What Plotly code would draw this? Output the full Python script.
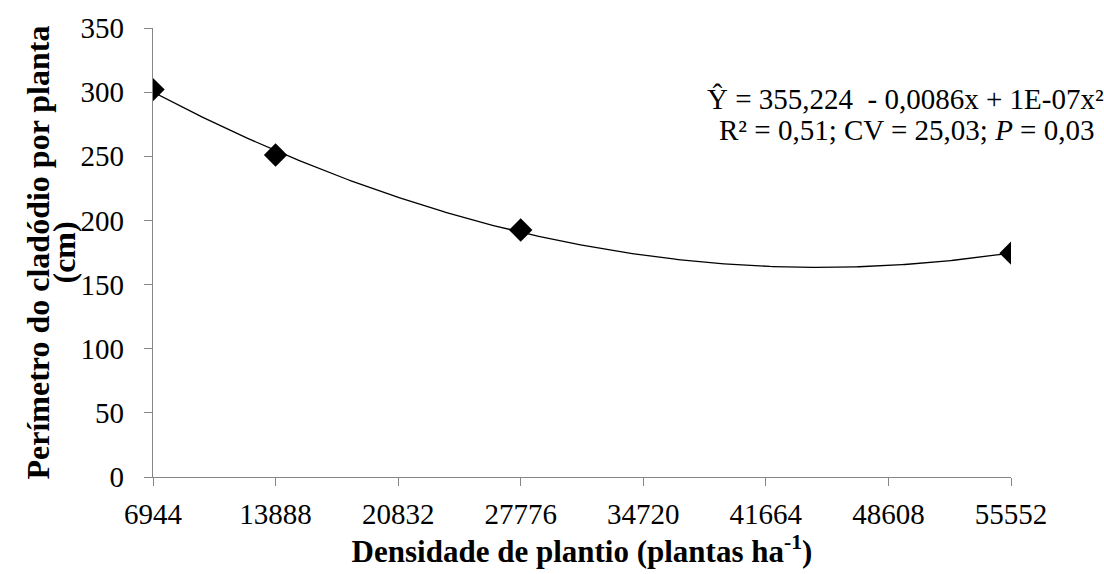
import numpy as np
import plotly.graph_objects as go

# Planting density (plants per hectare) and cladode perimeter per plant (cm)
densidade = [6944, 13888, 27776, 55552]
perimetro = [302, 251, 192.5, 174.5]
x_ticks = [6944, 13888, 20832, 27776, 34720, 41664, 48608, 55552]
y_ticks = [0, 50, 100, 150, 200, 250, 300, 350]

# Second-order polynomial trend fitted to the observations
coef = np.polyfit(densidade, perimetro, 2)
x_fit = np.linspace(min(densidade), max(densidade), 300)
y_fit = np.polyval(coef, x_fit)

FONT = "'Liberation Serif', 'Times New Roman', Times, serif"
AXIS_COLOR = "#868686"

fig = go.Figure()
fig.add_trace(go.Scatter(
    x=x_fit, y=y_fit, mode="lines",
    line=dict(color="black", width=1.3),
    hoverinfo="skip", showlegend=False,
))
fig.add_trace(go.Scatter(
    x=densidade, y=perimetro, mode="markers",
    marker=dict(symbol="diamond", size=18, color="black"),
    showlegend=False,
))

fig.update_layout(
    width=1104, height=574,
    margin=dict(l=153, r=93, t=25, b=97),
    paper_bgcolor="white", plot_bgcolor="white",
    font=dict(family=FONT, size=29, color="black"),
    xaxis=dict(
        range=[6944, 55552], tickvals=x_ticks, ticktext=[str(v) for v in x_ticks],
        showgrid=False, zeroline=False, showline=True, linecolor=AXIS_COLOR, linewidth=1.3,
        ticks="outside", ticklen=8, tickcolor=AXIS_COLOR, tickwidth=1.3,
        tickfont=dict(family=FONT, size=29), ticklabelstandoff=3,
        title=dict(text="<b>Densidade de plantio (plantas ha<sup>-1</sup>)</b>",
                   font=dict(family=FONT, size=31), standoff=10),
    ),
    yaxis=dict(
        range=[0, 350], tickvals=y_ticks,
        showgrid=False, zeroline=False, showline=True, linecolor=AXIS_COLOR, linewidth=1.3,
        ticks="outside", ticklen=8, tickcolor=AXIS_COLOR, tickwidth=1.3,
        tickfont=dict(family=FONT, size=29), ticklabelstandoff=14,
    ),
)

# Vertical two-line axis title, lines set close together
fig.add_annotation(
    xref="paper", yref="paper", x=(37 - 153) / 858, y=0.5, xanchor="center", yanchor="middle",
    text="<b>Perímetro do cladódio por planta</b>", textangle=-90,
    showarrow=False, font=dict(family=FONT, size=32),
)
fig.add_annotation(
    xref="paper", yref="paper", x=(63 - 153) / 858, y=0.5, xanchor="center", yanchor="middle",
    text="<b>(cm)</b>", textangle=-90,
    showarrow=False, font=dict(family=FONT, size=32),
)

# Regression equation and statistics
fig.add_annotation(
    xref="paper", yref="paper", x=(905 - 153) / 858, y=(477 - 96) / 452,
    xanchor="center", yanchor="middle",
    text="Ŷ = 355,224  - 0,0086x + 1E-07x²",
    showarrow=False, font=dict(family=FONT, size=29),
)
fig.add_annotation(
    xref="paper", yref="paper", x=(906 - 153) / 858, y=(477 - 128) / 452,
    xanchor="center", yanchor="middle",
    text="R² = 0,51; CV = 25,03; <i>P</i> = 0,03",
    showarrow=False, font=dict(family=FONT, size=29),
)

fig.write_html("out.html")
